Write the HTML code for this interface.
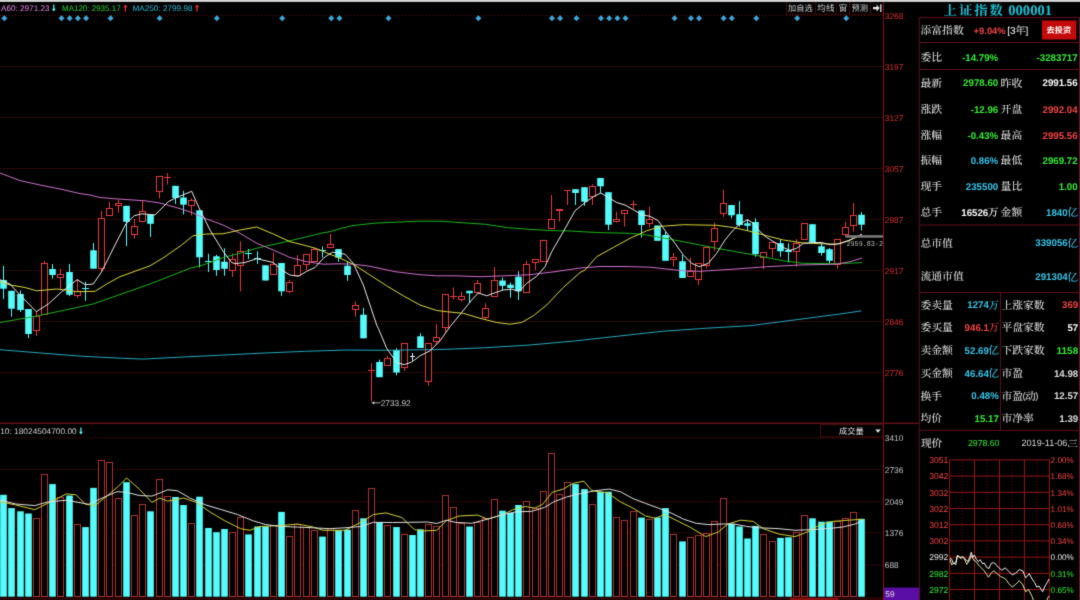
<!DOCTYPE html>
<html lang="zh"><head><meta charset="utf-8"><title>上证指数 000001</title>
<style>
html,body{margin:0;padding:0;background:#000;width:1080px;height:600px;overflow:hidden}
svg{display:block;font-family:"Liberation Sans",sans-serif}
text{white-space:pre;-webkit-font-smoothing:antialiased}
svg{will-change:transform}
.zh{font-family:"Liberation Sans","Noto Sans CJK SC",sans-serif}
.zs{font-family:"Liberation Serif","Noto Serif CJK SC",serif}
</style></head><body>
<svg width="1080" height="600" viewBox="0 0 1080 600" text-rendering="geometricPrecision">
<defs><filter id="soft" x="0" y="0" width="100%" height="100%" color-interpolation-filters="sRGB"><feConvolveMatrix order="3" kernelMatrix="0.02 0.09 0.02 0.09 0.56 0.09 0.02 0.09 0.02" divisor="1" edgeMode="duplicate" preserveAlpha="true"/></filter></defs>
<g filter="url(#soft)">
<rect x="0" y="0" width="1080" height="600" fill="#000"/>
<rect x="0" y="-1" width="1080" height="2.9" fill="#d6d6d6"/>
<line x1="0" y1="15.5" x2="883" y2="15.5" stroke="#5a1010" stroke-width="1" stroke-dasharray="1 2"/>
<line x1="0" y1="66.5" x2="883" y2="66.5" stroke="#2e0808" stroke-width="1"/>
<line x1="0" y1="117.5" x2="883" y2="117.5" stroke="#2e0808" stroke-width="1"/>
<line x1="0" y1="168.5" x2="883" y2="168.5" stroke="#2e0808" stroke-width="1"/>
<line x1="0" y1="219.5" x2="883" y2="219.5" stroke="#2e0808" stroke-width="1"/>
<line x1="0" y1="270.5" x2="883" y2="270.5" stroke="#2e0808" stroke-width="1"/>
<line x1="0" y1="321.5" x2="883" y2="321.5" stroke="#2e0808" stroke-width="1"/>
<line x1="0" y1="372.5" x2="883" y2="372.5" stroke="#2e0808" stroke-width="1"/>
<line x1="883.5" y1="2" x2="883.5" y2="600" stroke="#861414" stroke-width="1"/>
<text x="884.8" y="18.57" font-family="Liberation Sans, sans-serif" font-size="8.3" fill="#e03030">3268</text>
<text x="884.8" y="69.57" font-family="Liberation Sans, sans-serif" font-size="8.3" fill="#e03030">3197</text>
<text x="884.8" y="120.57" font-family="Liberation Sans, sans-serif" font-size="8.3" fill="#e03030">3127</text>
<text x="884.8" y="171.57" font-family="Liberation Sans, sans-serif" font-size="8.3" fill="#e03030">3057</text>
<text x="884.8" y="222.57" font-family="Liberation Sans, sans-serif" font-size="8.3" fill="#e03030">2987</text>
<text x="884.8" y="273.57" font-family="Liberation Sans, sans-serif" font-size="8.3" fill="#e03030">2917</text>
<text x="884.8" y="324.57" font-family="Liberation Sans, sans-serif" font-size="8.3" fill="#e03030">2846</text>
<text x="884.8" y="375.57" font-family="Liberation Sans, sans-serif" font-size="8.3" fill="#e03030">2776</text>
<path d="M4.3 15.2L7.3 18.2L4.3 21.2L1.3 18.2Z" fill="#3ba7d9"/>
<path d="M61.52 15.2L64.52 18.2L61.52 21.2L58.52 18.2Z" fill="#3ba7d9"/>
<path d="M69.69 15.2L72.69 18.2L69.69 21.2L66.69 18.2Z" fill="#3ba7d9"/>
<path d="M77.87 15.2L80.87 18.2L77.87 21.2L74.87 18.2Z" fill="#3ba7d9"/>
<path d="M86.04 15.2L89.04 18.2L86.04 21.2L83.04 18.2Z" fill="#3ba7d9"/>
<path d="M110.56 15.2L113.56 18.2L110.56 21.2L107.56 18.2Z" fill="#3ba7d9"/>
<path d="M159.61 15.2L162.61 18.2L159.61 21.2L156.61 18.2Z" fill="#3ba7d9"/>
<path d="M216.82 15.2L219.82 18.2L216.82 21.2L213.82 18.2Z" fill="#3ba7d9"/>
<path d="M282.22 15.2L285.22 18.2L282.22 21.2L279.22 18.2Z" fill="#3ba7d9"/>
<path d="M331.26 15.2L334.26 18.2L331.26 21.2L328.26 18.2Z" fill="#3ba7d9"/>
<path d="M339.43 15.2L342.43 18.2L339.43 21.2L336.43 18.2Z" fill="#3ba7d9"/>
<path d="M388.48 15.2L391.48 18.2L388.48 21.2L385.48 18.2Z" fill="#3ba7d9"/>
<path d="M478.39 15.2L481.39 18.2L478.39 21.2L475.39 18.2Z" fill="#3ba7d9"/>
<path d="M551.96 15.2L554.96 18.2L551.96 21.2L548.96 18.2Z" fill="#3ba7d9"/>
<path d="M560.13 15.2L563.13 18.2L560.13 21.2L557.13 18.2Z" fill="#3ba7d9"/>
<path d="M576.48 15.2L579.48 18.2L576.48 21.2L573.48 18.2Z" fill="#3ba7d9"/>
<path d="M601 15.2L604 18.2L601 21.2L598 18.2Z" fill="#3ba7d9"/>
<path d="M609.18 15.2L612.18 18.2L609.18 21.2L606.18 18.2Z" fill="#3ba7d9"/>
<path d="M617.35 15.2L620.35 18.2L617.35 21.2L614.35 18.2Z" fill="#3ba7d9"/>
<path d="M625.52 15.2L628.52 18.2L625.52 21.2L622.52 18.2Z" fill="#3ba7d9"/>
<path d="M674.57 15.2L677.57 18.2L674.57 21.2L671.57 18.2Z" fill="#3ba7d9"/>
<path d="M690.92 15.2L693.92 18.2L690.92 21.2L687.92 18.2Z" fill="#3ba7d9"/>
<path d="M699.09 15.2L702.09 18.2L699.09 21.2L696.09 18.2Z" fill="#3ba7d9"/>
<path d="M723.61 15.2L726.61 18.2L723.61 21.2L720.61 18.2Z" fill="#3ba7d9"/>
<path d="M731.79 15.2L734.79 18.2L731.79 21.2L728.79 18.2Z" fill="#3ba7d9"/>
<path d="M756.31 15.2L759.31 18.2L756.31 21.2L753.31 18.2Z" fill="#3ba7d9"/>
<path d="M797.18 15.2L800.18 18.2L797.18 21.2L794.18 18.2Z" fill="#3ba7d9"/>
<path d="M846.22 15.2L849.22 18.2L846.22 21.2L843.22 18.2Z" fill="#3ba7d9"/>
<text x="1" y="10.92" font-family="Liberation Sans, sans-serif" font-size="8.15" fill="#e688e6" textLength="48.5" lengthAdjust="spacingAndGlyphs">A60: 2971.23</text>
<text x="62" y="10.92" font-family="Liberation Sans, sans-serif" font-size="8.15" fill="#2cd42c" textLength="58.6" lengthAdjust="spacingAndGlyphs">MA120: 2935.17</text>
<text x="132.5" y="10.92" font-family="Liberation Sans, sans-serif" font-size="8.15" fill="#2cbcd8" textLength="60" lengthAdjust="spacingAndGlyphs">MA250: 2799.98</text>
<path d="M53.8 11.6L55.8 8.8H54.4V4.6H53.2V8.8H51.8Z" fill="#5ff"/>
<path d="M125.4 4.4L127.4 7.2H126V11.4H124.8V7.2H123.4Z" fill="#f33"/>
<path d="M197 4.4L199 7.2H197.6V11.4H196.4V7.2H195Z" fill="#f33"/>
<line x1="3.5" y1="265.8" x2="3.5" y2="299" stroke="#54fcfc" stroke-width="1"/>
<rect x="0.2" y="280" width="6.6" height="8.7" fill="#54fcfc"/>
<line x1="11.5" y1="290.8" x2="11.5" y2="316.7" stroke="#54fcfc" stroke-width="1"/>
<rect x="8.2" y="290.8" width="6.6" height="17.9" fill="#54fcfc"/>
<line x1="20.5" y1="290.5" x2="20.5" y2="312" stroke="#54fcfc" stroke-width="1"/>
<rect x="17.2" y="294" width="6.6" height="16" fill="#54fcfc"/>
<line x1="28.5" y1="309" x2="28.5" y2="338" stroke="#54fcfc" stroke-width="1"/>
<rect x="25.2" y="309" width="6.6" height="25" fill="#54fcfc"/>
<line x1="36.5" y1="311" x2="36.5" y2="316.7" stroke="#e63a3a" stroke-width="1"/>
<line x1="36.5" y1="330" x2="36.5" y2="336" stroke="#e63a3a" stroke-width="1"/>
<rect x="33.5" y="316.5" width="6" height="14" fill="#000" stroke="#e63a3a" stroke-width="1"/>
<line x1="44.5" y1="261" x2="44.5" y2="263.3" stroke="#e63a3a" stroke-width="1"/>
<rect x="41.5" y="263.5" width="6" height="51" fill="#000" stroke="#e63a3a" stroke-width="1"/>
<line x1="52.5" y1="264" x2="52.5" y2="278.7" stroke="#54fcfc" stroke-width="1"/>
<rect x="49.2" y="269" width="6.6" height="6" fill="#54fcfc"/>
<line x1="60.5" y1="268.7" x2="60.5" y2="274" stroke="#e63a3a" stroke-width="1"/>
<line x1="60.5" y1="277.5" x2="60.5" y2="289" stroke="#e63a3a" stroke-width="1"/>
<rect x="57.5" y="274.5" width="6" height="3" fill="#000" stroke="#e63a3a" stroke-width="1"/>
<line x1="69.5" y1="264" x2="69.5" y2="296" stroke="#54fcfc" stroke-width="1"/>
<rect x="66.2" y="272" width="6.6" height="22.7" fill="#54fcfc"/>
<line x1="77.5" y1="279" x2="77.5" y2="291.3" stroke="#e63a3a" stroke-width="1"/>
<line x1="77.5" y1="295" x2="77.5" y2="298" stroke="#e63a3a" stroke-width="1"/>
<rect x="74.5" y="291.5" width="6" height="4" fill="#000" stroke="#e63a3a" stroke-width="1"/>
<line x1="85.5" y1="281.7" x2="85.5" y2="300.8" stroke="#54fcfc" stroke-width="1"/>
<line x1="82" y1="288.5" x2="89" y2="288.5" stroke="#54fcfc" stroke-width="1"/>
<line x1="93.5" y1="243" x2="93.5" y2="268.7" stroke="#54fcfc" stroke-width="1"/>
<rect x="90.2" y="250.3" width="6.6" height="18.4" fill="#54fcfc"/>
<line x1="101.5" y1="211" x2="101.5" y2="218.5" stroke="#e63a3a" stroke-width="1"/>
<line x1="101.5" y1="268.5" x2="101.5" y2="272" stroke="#e63a3a" stroke-width="1"/>
<rect x="98.5" y="218.5" width="6" height="50" fill="#000" stroke="#e63a3a" stroke-width="1"/>
<line x1="109.5" y1="202" x2="109.5" y2="208" stroke="#e63a3a" stroke-width="1"/>
<rect x="106.5" y="208.5" width="6" height="7" fill="#000" stroke="#e63a3a" stroke-width="1"/>
<line x1="118.5" y1="200" x2="118.5" y2="203" stroke="#e63a3a" stroke-width="1"/>
<line x1="118.5" y1="205.5" x2="118.5" y2="212.8" stroke="#e63a3a" stroke-width="1"/>
<rect x="115.5" y="203.5" width="6" height="2" fill="#000" stroke="#e63a3a" stroke-width="1"/>
<line x1="126.5" y1="205.8" x2="126.5" y2="246.2" stroke="#54fcfc" stroke-width="1"/>
<rect x="123.2" y="205.8" width="6.6" height="16" fill="#54fcfc"/>
<line x1="134.5" y1="219" x2="134.5" y2="226.5" stroke="#e63a3a" stroke-width="1"/>
<line x1="134.5" y1="234.3" x2="134.5" y2="238.6" stroke="#e63a3a" stroke-width="1"/>
<rect x="131.5" y="226.5" width="6" height="8" fill="#000" stroke="#e63a3a" stroke-width="1"/>
<line x1="142.5" y1="200.2" x2="142.5" y2="211.7" stroke="#e63a3a" stroke-width="1"/>
<line x1="142.5" y1="221.7" x2="142.5" y2="222.3" stroke="#e63a3a" stroke-width="1"/>
<rect x="139.5" y="211.5" width="6" height="10" fill="#000" stroke="#e63a3a" stroke-width="1"/>
<line x1="150.5" y1="214.5" x2="150.5" y2="237" stroke="#54fcfc" stroke-width="1"/>
<rect x="147.2" y="214.5" width="6.6" height="9.3" fill="#54fcfc"/>
<line x1="159.5" y1="191.7" x2="159.5" y2="198.2" stroke="#e63a3a" stroke-width="1"/>
<rect x="156.5" y="176.5" width="6" height="15" fill="#000" stroke="#e63a3a" stroke-width="1"/>
<line x1="167.5" y1="173" x2="167.5" y2="184.6" stroke="#e63a3a" stroke-width="1"/>
<line x1="164" y1="177.5" x2="171" y2="177.5" stroke="#e63a3a" stroke-width="1"/>
<line x1="175.5" y1="185.8" x2="175.5" y2="204" stroke="#54fcfc" stroke-width="1"/>
<rect x="172.2" y="185.8" width="6.6" height="12.1" fill="#54fcfc"/>
<line x1="183.5" y1="190.8" x2="183.5" y2="214.5" stroke="#54fcfc" stroke-width="1"/>
<rect x="180.2" y="197.5" width="6.6" height="7.2" fill="#54fcfc"/>
<line x1="191.5" y1="198.3" x2="191.5" y2="200.8" stroke="#e63a3a" stroke-width="1"/>
<line x1="191.5" y1="205.8" x2="191.5" y2="215.6" stroke="#e63a3a" stroke-width="1"/>
<rect x="188.5" y="200.5" width="6" height="5" fill="#000" stroke="#e63a3a" stroke-width="1"/>
<line x1="199.5" y1="210.3" x2="199.5" y2="267.5" stroke="#54fcfc" stroke-width="1"/>
<rect x="196.2" y="210.3" width="6.6" height="47" fill="#54fcfc"/>
<line x1="208.5" y1="253.7" x2="208.5" y2="272" stroke="#54fcfc" stroke-width="1"/>
<line x1="205" y1="261.5" x2="212" y2="261.5" stroke="#54fcfc" stroke-width="1"/>
<line x1="216.5" y1="254.7" x2="216.5" y2="275.8" stroke="#54fcfc" stroke-width="1"/>
<rect x="213.2" y="256.3" width="6.6" height="13.7" fill="#54fcfc"/>
<line x1="224.5" y1="248.3" x2="224.5" y2="275.8" stroke="#54fcfc" stroke-width="1"/>
<rect x="221.2" y="261.7" width="6.6" height="7.1" fill="#54fcfc"/>
<line x1="232.5" y1="253.3" x2="232.5" y2="259" stroke="#e63a3a" stroke-width="1"/>
<line x1="232.5" y1="270.3" x2="232.5" y2="277" stroke="#e63a3a" stroke-width="1"/>
<rect x="229.5" y="259.5" width="6" height="11" fill="#000" stroke="#e63a3a" stroke-width="1"/>
<line x1="240.5" y1="241.3" x2="240.5" y2="251.3" stroke="#e63a3a" stroke-width="1"/>
<line x1="240.5" y1="265.5" x2="240.5" y2="291.3" stroke="#e63a3a" stroke-width="1"/>
<rect x="237.5" y="251.5" width="6" height="14" fill="#000" stroke="#e63a3a" stroke-width="1"/>
<line x1="248.5" y1="249" x2="248.5" y2="259" stroke="#54fcfc" stroke-width="1"/>
<line x1="245" y1="253.5" x2="252" y2="253.5" stroke="#54fcfc" stroke-width="1"/>
<line x1="257.5" y1="251.3" x2="257.5" y2="264" stroke="#54fcfc" stroke-width="1"/>
<line x1="254" y1="258.5" x2="261" y2="258.5" stroke="#54fcfc" stroke-width="1"/>
<line x1="265.5" y1="265.3" x2="265.5" y2="280.5" stroke="#54fcfc" stroke-width="1"/>
<rect x="262.2" y="265.3" width="6.6" height="15.2" fill="#54fcfc"/>
<line x1="273.5" y1="252.5" x2="273.5" y2="264" stroke="#e63a3a" stroke-width="1"/>
<rect x="270.5" y="264.5" width="6" height="10" fill="#000" stroke="#e63a3a" stroke-width="1"/>
<line x1="281.5" y1="263" x2="281.5" y2="295.8" stroke="#54fcfc" stroke-width="1"/>
<rect x="278.2" y="263" width="6.6" height="28.3" fill="#54fcfc"/>
<line x1="289.5" y1="280" x2="289.5" y2="282" stroke="#e63a3a" stroke-width="1"/>
<line x1="289.5" y1="291.3" x2="289.5" y2="293.3" stroke="#e63a3a" stroke-width="1"/>
<rect x="286.5" y="282.5" width="6" height="9" fill="#000" stroke="#e63a3a" stroke-width="1"/>
<line x1="297.5" y1="255" x2="297.5" y2="265.3" stroke="#e63a3a" stroke-width="1"/>
<rect x="294.5" y="265.5" width="6" height="10" fill="#000" stroke="#e63a3a" stroke-width="1"/>
<line x1="306.5" y1="264" x2="306.5" y2="270" stroke="#e63a3a" stroke-width="1"/>
<rect x="303.5" y="254.5" width="6" height="10" fill="#000" stroke="#e63a3a" stroke-width="1"/>
<line x1="314.5" y1="247.5" x2="314.5" y2="249" stroke="#e63a3a" stroke-width="1"/>
<rect x="311.5" y="249.5" width="6" height="12" fill="#000" stroke="#e63a3a" stroke-width="1"/>
<line x1="322.5" y1="246.5" x2="322.5" y2="257.5" stroke="#54fcfc" stroke-width="1"/>
<line x1="319" y1="250.5" x2="326" y2="250.5" stroke="#54fcfc" stroke-width="1"/>
<line x1="330.5" y1="234.1" x2="330.5" y2="244.1" stroke="#e63a3a" stroke-width="1"/>
<rect x="327.5" y="244.5" width="6" height="3" fill="#000" stroke="#e63a3a" stroke-width="1"/>
<line x1="338.5" y1="249.1" x2="338.5" y2="261.7" stroke="#54fcfc" stroke-width="1"/>
<rect x="335.2" y="249.1" width="6.6" height="8.6" fill="#54fcfc"/>
<line x1="347.5" y1="262" x2="347.5" y2="280.8" stroke="#54fcfc" stroke-width="1"/>
<rect x="344.2" y="265.8" width="6.6" height="9.2" fill="#54fcfc"/>
<line x1="355.5" y1="301.3" x2="355.5" y2="305.3" stroke="#e63a3a" stroke-width="1"/>
<line x1="355.5" y1="309.7" x2="355.5" y2="316.7" stroke="#e63a3a" stroke-width="1"/>
<rect x="352.5" y="305.5" width="6" height="4" fill="#000" stroke="#e63a3a" stroke-width="1"/>
<line x1="363.5" y1="307.8" x2="363.5" y2="338.3" stroke="#54fcfc" stroke-width="1"/>
<rect x="360.2" y="314.7" width="6.6" height="23.6" fill="#54fcfc"/>
<line x1="371.5" y1="363.3" x2="371.5" y2="401.7" stroke="#e63a3a" stroke-width="1"/>
<line x1="368" y1="370.5" x2="375" y2="370.5" stroke="#e63a3a" stroke-width="1"/>
<line x1="379.5" y1="359.7" x2="379.5" y2="377.2" stroke="#54fcfc" stroke-width="1"/>
<rect x="376.2" y="362" width="6.6" height="15.2" fill="#54fcfc"/>
<line x1="387.5" y1="355.8" x2="387.5" y2="358.3" stroke="#e63a3a" stroke-width="1"/>
<rect x="384.5" y="358.5" width="6" height="7" fill="#000" stroke="#e63a3a" stroke-width="1"/>
<line x1="396.5" y1="348.3" x2="396.5" y2="375.3" stroke="#54fcfc" stroke-width="1"/>
<rect x="393.2" y="350" width="6.6" height="22.5" fill="#54fcfc"/>
<line x1="404.5" y1="367.5" x2="404.5" y2="370.8" stroke="#e63a3a" stroke-width="1"/>
<rect x="401.5" y="343.5" width="6" height="24" fill="#000" stroke="#e63a3a" stroke-width="1"/>
<line x1="412.5" y1="353" x2="412.5" y2="360.8" stroke="#d8f4f4" stroke-width="1"/>
<line x1="410" y1="356.5" x2="415" y2="356.5" stroke="#d8f4f4" stroke-width="1"/>
<line x1="420.5" y1="333.3" x2="420.5" y2="348" stroke="#54fcfc" stroke-width="1"/>
<rect x="417.2" y="336.3" width="6.6" height="11.7" fill="#54fcfc"/>
<line x1="428.5" y1="381.7" x2="428.5" y2="385.8" stroke="#e63a3a" stroke-width="1"/>
<rect x="425.5" y="343.5" width="6" height="38" fill="#000" stroke="#e63a3a" stroke-width="1"/>
<line x1="436.5" y1="324.2" x2="436.5" y2="337.5" stroke="#e63a3a" stroke-width="1"/>
<line x1="436.5" y1="341.7" x2="436.5" y2="345" stroke="#e63a3a" stroke-width="1"/>
<rect x="433.5" y="337.5" width="6" height="4" fill="#000" stroke="#e63a3a" stroke-width="1"/>
<line x1="445.5" y1="327.5" x2="445.5" y2="332.5" stroke="#e63a3a" stroke-width="1"/>
<rect x="442.5" y="294.5" width="6" height="33" fill="#000" stroke="#e63a3a" stroke-width="1"/>
<line x1="453.5" y1="287.5" x2="453.5" y2="299.6" stroke="#e63a3a" stroke-width="1"/>
<line x1="450" y1="296.5" x2="457" y2="296.5" stroke="#e63a3a" stroke-width="1"/>
<line x1="461.5" y1="291.8" x2="461.5" y2="296.3" stroke="#e63a3a" stroke-width="1"/>
<line x1="461.5" y1="299.2" x2="461.5" y2="301.7" stroke="#e63a3a" stroke-width="1"/>
<rect x="458.5" y="296.5" width="6" height="3" fill="#000" stroke="#e63a3a" stroke-width="1"/>
<line x1="469.5" y1="290.8" x2="469.5" y2="302.5" stroke="#54fcfc" stroke-width="1"/>
<rect x="466.2" y="290.8" width="6.6" height="2.5" fill="#54fcfc"/>
<line x1="477.5" y1="280" x2="477.5" y2="283.3" stroke="#e63a3a" stroke-width="1"/>
<line x1="477.5" y1="292.5" x2="477.5" y2="294" stroke="#e63a3a" stroke-width="1"/>
<rect x="474.5" y="283.5" width="6" height="9" fill="#000" stroke="#e63a3a" stroke-width="1"/>
<line x1="485.5" y1="303.3" x2="485.5" y2="308" stroke="#e63a3a" stroke-width="1"/>
<line x1="485.5" y1="317.5" x2="485.5" y2="319" stroke="#e63a3a" stroke-width="1"/>
<rect x="482.5" y="308.5" width="6" height="9" fill="#000" stroke="#e63a3a" stroke-width="1"/>
<line x1="494.5" y1="267" x2="494.5" y2="280" stroke="#e63a3a" stroke-width="1"/>
<rect x="491.5" y="280.5" width="6" height="16" fill="#000" stroke="#e63a3a" stroke-width="1"/>
<line x1="502.5" y1="277.5" x2="502.5" y2="290" stroke="#54fcfc" stroke-width="1"/>
<rect x="499.2" y="280.5" width="6.6" height="5.3" fill="#54fcfc"/>
<line x1="510.5" y1="282.5" x2="510.5" y2="297.5" stroke="#54fcfc" stroke-width="1"/>
<rect x="507.2" y="284.7" width="6.6" height="3.3" fill="#54fcfc"/>
<line x1="518.5" y1="271.3" x2="518.5" y2="300" stroke="#54fcfc" stroke-width="1"/>
<rect x="515.2" y="276.7" width="6.6" height="14.6" fill="#54fcfc"/>
<line x1="526.5" y1="260.8" x2="526.5" y2="264.2" stroke="#e63a3a" stroke-width="1"/>
<rect x="523.5" y="264.5" width="6" height="28" fill="#000" stroke="#e63a3a" stroke-width="1"/>
<line x1="535.5" y1="262.3" x2="535.5" y2="270" stroke="#e63a3a" stroke-width="1"/>
<rect x="532.5" y="259.5" width="6" height="3" fill="#000" stroke="#e63a3a" stroke-width="1"/>
<rect x="540.5" y="240.5" width="6" height="21" fill="#000" stroke="#e63a3a" stroke-width="1"/>
<line x1="551.5" y1="195" x2="551.5" y2="219.5" stroke="#e63a3a" stroke-width="1"/>
<rect x="548.5" y="219.5" width="6" height="9" fill="#000" stroke="#e63a3a" stroke-width="1"/>
<line x1="559.5" y1="210" x2="559.5" y2="221.7" stroke="#e63a3a" stroke-width="1"/>
<line x1="556" y1="210" x2="563" y2="210" stroke="#e63a3a" stroke-width="2"/>
<line x1="567.5" y1="190.8" x2="567.5" y2="205" stroke="#e63a3a" stroke-width="1"/>
<line x1="564" y1="190.5" x2="571" y2="190.5" stroke="#e63a3a" stroke-width="1"/>
<line x1="575.5" y1="189.2" x2="575.5" y2="205" stroke="#54fcfc" stroke-width="1"/>
<rect x="572.2" y="189.2" width="6.6" height="3.8" fill="#54fcfc"/>
<line x1="584.5" y1="187.2" x2="584.5" y2="205.8" stroke="#54fcfc" stroke-width="1"/>
<rect x="581.2" y="187.2" width="6.6" height="14.5" fill="#54fcfc"/>
<line x1="592.5" y1="184.2" x2="592.5" y2="186.3" stroke="#e63a3a" stroke-width="1"/>
<line x1="592.5" y1="196.3" x2="592.5" y2="205" stroke="#e63a3a" stroke-width="1"/>
<rect x="589.5" y="186.5" width="6" height="10" fill="#000" stroke="#e63a3a" stroke-width="1"/>
<line x1="600.5" y1="178" x2="600.5" y2="193.3" stroke="#54fcfc" stroke-width="1"/>
<rect x="597.2" y="178" width="6.6" height="8.3" fill="#54fcfc"/>
<line x1="608.5" y1="192.2" x2="608.5" y2="230" stroke="#54fcfc" stroke-width="1"/>
<rect x="605.2" y="192.2" width="6.6" height="32.5" fill="#54fcfc"/>
<line x1="616.5" y1="211.7" x2="616.5" y2="219.2" stroke="#e63a3a" stroke-width="1"/>
<line x1="616.5" y1="220.8" x2="616.5" y2="222.5" stroke="#e63a3a" stroke-width="1"/>
<rect x="613.5" y="219.5" width="6" height="2" fill="#000" stroke="#e63a3a" stroke-width="1"/>
<line x1="624.5" y1="213.7" x2="624.5" y2="226.7" stroke="#e63a3a" stroke-width="1"/>
<rect x="621.5" y="210.5" width="6" height="3" fill="#000" stroke="#e63a3a" stroke-width="1"/>
<line x1="633.5" y1="200.8" x2="633.5" y2="209.2" stroke="#e63a3a" stroke-width="1"/>
<line x1="630" y1="204.5" x2="637" y2="204.5" stroke="#e63a3a" stroke-width="1"/>
<line x1="641.5" y1="210.5" x2="641.5" y2="237.5" stroke="#54fcfc" stroke-width="1"/>
<rect x="638.2" y="210.5" width="6.6" height="14.5" fill="#54fcfc"/>
<line x1="649.5" y1="206.7" x2="649.5" y2="219.2" stroke="#e63a3a" stroke-width="1"/>
<line x1="649.5" y1="223.7" x2="649.5" y2="227.5" stroke="#e63a3a" stroke-width="1"/>
<rect x="646.5" y="219.5" width="6" height="4" fill="#000" stroke="#e63a3a" stroke-width="1"/>
<line x1="657.5" y1="225.5" x2="657.5" y2="240.8" stroke="#54fcfc" stroke-width="1"/>
<rect x="654.2" y="225.5" width="6.6" height="15.3" fill="#54fcfc"/>
<line x1="665.5" y1="231.7" x2="665.5" y2="260.8" stroke="#54fcfc" stroke-width="1"/>
<rect x="662.2" y="235" width="6.6" height="25.8" fill="#54fcfc"/>
<line x1="673.5" y1="253" x2="673.5" y2="257.8" stroke="#e63a3a" stroke-width="1"/>
<line x1="673.5" y1="259.8" x2="673.5" y2="266.7" stroke="#e63a3a" stroke-width="1"/>
<rect x="670.5" y="257.5" width="6" height="2" fill="#000" stroke="#e63a3a" stroke-width="1"/>
<line x1="682.5" y1="255" x2="682.5" y2="278" stroke="#54fcfc" stroke-width="1"/>
<rect x="679.2" y="261.3" width="6.6" height="16.7" fill="#54fcfc"/>
<line x1="690.5" y1="257.5" x2="690.5" y2="271.7" stroke="#e63a3a" stroke-width="1"/>
<rect x="687.5" y="271.5" width="6" height="5" fill="#000" stroke="#e63a3a" stroke-width="1"/>
<line x1="698.5" y1="279.7" x2="698.5" y2="285" stroke="#e63a3a" stroke-width="1"/>
<rect x="695.5" y="263.5" width="6" height="16" fill="#000" stroke="#e63a3a" stroke-width="1"/>
<line x1="706.5" y1="265" x2="706.5" y2="268.3" stroke="#e63a3a" stroke-width="1"/>
<rect x="703.5" y="247.5" width="6" height="18" fill="#000" stroke="#e63a3a" stroke-width="1"/>
<line x1="714.5" y1="222.5" x2="714.5" y2="228" stroke="#e63a3a" stroke-width="1"/>
<line x1="714.5" y1="241.7" x2="714.5" y2="250.8" stroke="#e63a3a" stroke-width="1"/>
<rect x="711.5" y="228.5" width="6" height="13" fill="#000" stroke="#e63a3a" stroke-width="1"/>
<line x1="723.5" y1="189.7" x2="723.5" y2="203.3" stroke="#e63a3a" stroke-width="1"/>
<line x1="723.5" y1="213.3" x2="723.5" y2="217" stroke="#e63a3a" stroke-width="1"/>
<rect x="720.5" y="203.5" width="6" height="10" fill="#000" stroke="#e63a3a" stroke-width="1"/>
<line x1="731.5" y1="205" x2="731.5" y2="218.3" stroke="#54fcfc" stroke-width="1"/>
<rect x="728.2" y="205" width="6.6" height="10.3" fill="#54fcfc"/>
<line x1="739.5" y1="201.2" x2="739.5" y2="226.7" stroke="#54fcfc" stroke-width="1"/>
<rect x="736.2" y="214.2" width="6.6" height="10.8" fill="#54fcfc"/>
<line x1="747.5" y1="219.2" x2="747.5" y2="230.8" stroke="#54fcfc" stroke-width="1"/>
<rect x="744.2" y="223.3" width="6.6" height="2.5" fill="#54fcfc"/>
<line x1="755.5" y1="218.3" x2="755.5" y2="256.7" stroke="#54fcfc" stroke-width="1"/>
<rect x="752.2" y="222" width="6.6" height="32.2" fill="#54fcfc"/>
<line x1="763.5" y1="257" x2="763.5" y2="269.2" stroke="#e63a3a" stroke-width="1"/>
<rect x="760.5" y="252.5" width="6" height="5" fill="#000" stroke="#e63a3a" stroke-width="1"/>
<line x1="772.5" y1="248.3" x2="772.5" y2="257.2" stroke="#e63a3a" stroke-width="1"/>
<rect x="769.5" y="242.5" width="6" height="6" fill="#000" stroke="#e63a3a" stroke-width="1"/>
<line x1="780.5" y1="240" x2="780.5" y2="256.8" stroke="#54fcfc" stroke-width="1"/>
<rect x="777.2" y="243.2" width="6.6" height="8.1" fill="#54fcfc"/>
<line x1="788.5" y1="243.3" x2="788.5" y2="262.5" stroke="#54fcfc" stroke-width="1"/>
<rect x="785.2" y="250" width="6.6" height="2" fill="#54fcfc"/>
<line x1="796.5" y1="239.2" x2="796.5" y2="243.3" stroke="#e63a3a" stroke-width="1"/>
<line x1="796.5" y1="251.7" x2="796.5" y2="266.7" stroke="#e63a3a" stroke-width="1"/>
<rect x="793.5" y="243.5" width="6" height="8" fill="#000" stroke="#e63a3a" stroke-width="1"/>
<line x1="804.5" y1="239.2" x2="804.5" y2="240" stroke="#e63a3a" stroke-width="1"/>
<rect x="801.5" y="223.5" width="6" height="16" fill="#000" stroke="#e63a3a" stroke-width="1"/>
<line x1="812.5" y1="224.2" x2="812.5" y2="242.2" stroke="#54fcfc" stroke-width="1"/>
<rect x="809.2" y="224.2" width="6.6" height="18" fill="#54fcfc"/>
<line x1="821.5" y1="242.5" x2="821.5" y2="255.5" stroke="#54fcfc" stroke-width="1"/>
<rect x="818.2" y="246.3" width="6.6" height="6.7" fill="#54fcfc"/>
<line x1="829.5" y1="248" x2="829.5" y2="264.2" stroke="#54fcfc" stroke-width="1"/>
<rect x="826.2" y="249.2" width="6.6" height="11.6" fill="#54fcfc"/>
<line x1="837.5" y1="264.2" x2="837.5" y2="268.7" stroke="#e63a3a" stroke-width="1"/>
<rect x="834.5" y="239.5" width="6" height="25" fill="#000" stroke="#e63a3a" stroke-width="1"/>
<line x1="845.5" y1="221.7" x2="845.5" y2="227.5" stroke="#e63a3a" stroke-width="1"/>
<line x1="845.5" y1="234.7" x2="845.5" y2="236.3" stroke="#e63a3a" stroke-width="1"/>
<rect x="842.5" y="227.5" width="6" height="7" fill="#000" stroke="#e63a3a" stroke-width="1"/>
<line x1="853.5" y1="203" x2="853.5" y2="215.3" stroke="#e63a3a" stroke-width="1"/>
<line x1="853.5" y1="225.3" x2="853.5" y2="231.7" stroke="#e63a3a" stroke-width="1"/>
<rect x="850.5" y="215.5" width="6" height="10" fill="#000" stroke="#e63a3a" stroke-width="1"/>
<line x1="861.5" y1="212" x2="861.5" y2="230.5" stroke="#54fcfc" stroke-width="1"/>
<rect x="858.2" y="214.7" width="6.6" height="10" fill="#54fcfc"/>
<polyline points="0,349.7 40.7,353 81.5,356.2 114,357.9 142.6,359.1 183.3,357 224,355 264.8,353 305.5,351.3 346.3,350 387,350.3 440,349.5 484.4,347.8 528.9,345.1 573.3,341.1 617.8,336.2 662.2,331.3 706.7,328.2 751.1,325.6 795.6,319.8 840,314 861.3,310.9" fill="none" stroke="#22a8c0" stroke-width="1" stroke-linejoin="round"/>
<polyline points="0,322.5 38,315.8 93,304 150,284 190,268.3 203,265 223.3,257.5 240,253.2 256.7,248.3 290,240.8 323,232.8 330,231.7 341,228.3 352,225.7 374.4,223.2 396.7,222.1 418.9,221.2 441,221.2 463.3,222.8 485.6,224.3 507.8,227.7 530,229.4 552,230.6 570,231 596.7,232.5 630,233.3 646.7,235 663.3,238 683.3,241.7 716.7,248.3 750,254.2 783.3,260.8 803.3,263.3 836.7,263.7 853.3,263 862,262.5" fill="none" stroke="#18b418" stroke-width="1" stroke-linejoin="round"/>
<polyline points="0,173 20,180.6 40,185 60,189 80,193.6 90,195 100,197.5 115,198.8 145,200.8 160,203 170,205.8 180,208.6 191.7,212.5 206.7,219 223,225 240,233.3 256.7,243.3 273.3,250 290,257.5 306.7,261.7 323.3,264.2 340,263.8 353.3,264.2 370,266.3 395,271.7 420,274.7 436.7,275.8 455,275.8 480,276.7 505,275.8 530,274.7 555,271.7 580,268 600,266.5 625,266.5 650,267.2 683.3,270.8 700,271.3 733.3,269.2 766.7,266.7 800,265 836.7,264.2 850,261.7 862,258" fill="none" stroke="#cc70cc" stroke-width="1" stroke-linejoin="round"/>
<polyline points="0,281.7 10,285 25,287.5 36.7,290.8 56.7,289 77,291.7 95,291.3 106.7,284 120,276.7 150,265.8 165,256.7 181.7,245 193,235.8 198,235 206.7,234 223,233.8 240,230 256.7,227 273.3,234 290,241.7 306.7,245.8 316.7,248.7 331.7,255 336.7,256.7 353.3,264.2 370,275 386.7,285.8 403.3,295.8 420,305 436.7,310.5 446.7,311.7 463.3,313.3 480,318.3 496.7,322.5 510,324.2 521.7,322.5 533.3,315.8 546.7,305 563.3,287.5 580,272.5 585,270 596.7,256.7 613.3,247.5 630,238.3 646.7,230.8 661.7,226.3 683.3,224.7 716.7,225.3 733.3,227.5 750,231.3 766.7,235.8 783.3,240 803.3,243 820,243.7 836.7,244.2 850,240 862,234.7" fill="none" stroke="#d8d838" stroke-width="1" stroke-linejoin="round"/>
<polyline points="0,279.7 10,284 20,295 36.3,311.7 48.3,304 61.7,291.7 77.2,279.7 85.3,284.7 93.3,284 101.7,271.7 105,265 115,245 125.8,224 134,215.8 141.7,213.8 155,215 168.3,201.7 176.7,197.5 191.7,191.3 200,210 210,230 223.3,251.7 231.7,262.5 235,263.7 245,262.5 256.7,258.7 273.3,262.5 281.7,270 290,275 298.3,276.3 306.7,271.3 315,267.5 323.3,258.3 326.7,255.8 332.5,252.2 345,254.2 353.3,263.3 363.3,285 370,305 376.7,325 378.3,328.3 386.7,348.3 396.7,362.5 404.2,364.7 411.7,362 420,355.8 430,350.8 440,340.8 450,326.7 461.7,312.5 471.7,300 478.3,293 486.7,295.8 494.2,293 503.3,290 511.7,289.2 519.2,291.3 526.7,283.3 536.7,276.3 545,266.7 551.7,251.7 563.3,231.7 575,210.8 585,202.5 593.3,196.7 600.8,193 608.3,197.5 616.7,202.5 625,205 633.3,209.7 641.7,214.7 650,216.3 658.3,220.8 665.8,231.7 675,243.3 683.3,255 691.7,263.3 699.2,266.7 708.3,263.3 716.7,253.3 725,240 733.3,230 740,223.7 747.5,219.7 753.3,223.3 760,231.7 766.7,237.5 775,242.5 783.3,247.5 790,250.3 796.7,248.3 803.3,243.3 813.3,242.5 821.7,242.5 830,244.7 840,243.7 848.3,240.8 856.7,236.7 862,234.2" fill="none" stroke="#e8e8e8" stroke-width="1" stroke-linejoin="round"/>
<text x="380.7" y="405.97" font-family="Liberation Sans, sans-serif" font-size="8.3" fill="#cccccc">2733.92</text>
<path d="M371.6 402.9l2.7 -1.6v1.15h6.2v0.9h-6.2v1.15z" fill="#d8d8d8"/>
<rect x="845.5" y="235.2" width="37.5" height="2.5" fill="#7c7c7c"/>
<clipPath id="cl1"><rect x="840" y="230" width="43" height="20"/></clipPath>
<text x="846.5" y="246" font-family="Liberation Mono, monospace" font-size="7.6" fill="#b8b8b8" clip-path="url(#cl1)" textLength="40.5" lengthAdjust="spacingAndGlyphs">2959.83-29</text>
<line x1="786.5" y1="2" x2="786.5" y2="14.5" stroke="#7a1414" stroke-width="1" stroke-dasharray="1 1"/>
<line x1="815.5" y1="2" x2="815.5" y2="14.5" stroke="#7a1414" stroke-width="1" stroke-dasharray="1 1"/>
<line x1="836.5" y1="2" x2="836.5" y2="14.5" stroke="#7a1414" stroke-width="1" stroke-dasharray="1 1"/>
<line x1="849.5" y1="2" x2="849.5" y2="14.5" stroke="#7a1414" stroke-width="1" stroke-dasharray="1 1"/>
<line x1="870.5" y1="2" x2="870.5" y2="14.5" stroke="#7a1414" stroke-width="1" stroke-dasharray="1 1"/>
<line x1="786.5" y1="14.2" x2="883" y2="14.2" stroke="#7a1414" stroke-width="1" stroke-dasharray="1 1"/>
<text class="zh" x="788" y="11.32" font-size="8.2" fill="#d0d0d0">加自选</text>
<text class="zh" x="817.3" y="11.47" font-size="8.6" fill="#d0d0d0">均线</text>
<text class="zh" x="838.8" y="11.47" font-size="8.6" fill="#d0d0d0">窗</text>
<text class="zh" x="851.5" y="11.32" font-size="8.2" fill="#d0d0d0">预测</text>
<path d="M873 7h3.6v-2.6l3 3.7l-3 3.7v-2.6h-3.6z" fill="#e6e6e6"/>
<rect x="880.2" y="4.2" width="1.3" height="7.8" fill="#e6e6e6"/>
<line x1="0" y1="423.3" x2="919" y2="423.3" stroke="#5e0e1a" stroke-width="1.5"/>
<line x1="0" y1="437.9" x2="883" y2="437.9" stroke="#2e0808" stroke-width="1"/>
<line x1="0" y1="469.4" x2="883" y2="469.4" stroke="#2e0808" stroke-width="1"/>
<line x1="0" y1="501.8" x2="883" y2="501.8" stroke="#2e0808" stroke-width="1"/>
<line x1="0" y1="532.8" x2="883" y2="532.8" stroke="#2e0808" stroke-width="1"/>
<line x1="0" y1="565.1" x2="883" y2="565.1" stroke="#2e0808" stroke-width="1"/>
<text x="884.8" y="441.07" font-family="Liberation Sans, sans-serif" font-size="8.3" fill="#c4c4c4">3410</text>
<text x="884.8" y="472.57" font-family="Liberation Sans, sans-serif" font-size="8.3" fill="#c4c4c4">2736</text>
<text x="884.8" y="504.97" font-family="Liberation Sans, sans-serif" font-size="8.3" fill="#c4c4c4">2049</text>
<text x="884.8" y="535.97" font-family="Liberation Sans, sans-serif" font-size="8.3" fill="#c4c4c4">1376</text>
<text x="884.8" y="568.27" font-family="Liberation Sans, sans-serif" font-size="8.3" fill="#c4c4c4">688</text>
<text x="0.2" y="433.92" font-family="Liberation Sans, sans-serif" font-size="8.15" fill="#d0d0d0" textLength="76.5" lengthAdjust="spacingAndGlyphs">10: 18024504700.00</text>
<path d="M80.9 434.6L82.9 431.8H81.5V427.6H80.3V431.8H78.9Z" fill="#5ff"/>
<rect x="0.2" y="494.8" width="6.6" height="101.9" fill="#54fcfc"/>
<rect x="8.2" y="508.1" width="6.6" height="88.6" fill="#54fcfc"/>
<rect x="17.2" y="511.3" width="6.6" height="85.4" fill="#54fcfc"/>
<rect x="25.2" y="513.5" width="6.6" height="83.2" fill="#54fcfc"/>
<rect x="33.5" y="518.5" width="6" height="78" fill="#000" stroke="#ac3030" stroke-width="1"/>
<rect x="41.5" y="474.5" width="6" height="122" fill="#000" stroke="#ac3030" stroke-width="1"/>
<rect x="49.2" y="484.1" width="6.6" height="112.6" fill="#54fcfc"/>
<rect x="57.5" y="497.5" width="6" height="99" fill="#000" stroke="#ac3030" stroke-width="1"/>
<rect x="66.2" y="495.5" width="6.6" height="101.2" fill="#54fcfc"/>
<rect x="74.5" y="524.5" width="6" height="72" fill="#000" stroke="#ac3030" stroke-width="1"/>
<rect x="82.2" y="527.1" width="6.6" height="69.6" fill="#54fcfc"/>
<rect x="90.2" y="487.9" width="6.6" height="108.8" fill="#54fcfc"/>
<rect x="98.5" y="460.5" width="6" height="136" fill="#000" stroke="#ac3030" stroke-width="1"/>
<rect x="106.5" y="462.5" width="6" height="134" fill="#000" stroke="#ac3030" stroke-width="1"/>
<rect x="115.5" y="498.5" width="6" height="98" fill="#000" stroke="#ac3030" stroke-width="1"/>
<rect x="123.2" y="482.2" width="6.6" height="114.5" fill="#54fcfc"/>
<rect x="131.5" y="515.5" width="6" height="81" fill="#000" stroke="#ac3030" stroke-width="1"/>
<rect x="139.5" y="504.5" width="6" height="92" fill="#000" stroke="#ac3030" stroke-width="1"/>
<rect x="147.2" y="511.3" width="6.6" height="85.4" fill="#54fcfc"/>
<rect x="156.5" y="479.5" width="6" height="117" fill="#000" stroke="#ac3030" stroke-width="1"/>
<rect x="164.5" y="496.5" width="6" height="100" fill="#000" stroke="#ac3030" stroke-width="1"/>
<rect x="172.2" y="497" width="6.6" height="99.7" fill="#54fcfc"/>
<rect x="180.2" y="505" width="6.6" height="91.7" fill="#54fcfc"/>
<rect x="188.5" y="523.5" width="6" height="73" fill="#000" stroke="#ac3030" stroke-width="1"/>
<rect x="196.2" y="496.7" width="6.6" height="100" fill="#54fcfc"/>
<rect x="205.2" y="528" width="6.6" height="68.7" fill="#54fcfc"/>
<rect x="213.2" y="532.2" width="6.6" height="64.5" fill="#54fcfc"/>
<rect x="221.2" y="529" width="6.6" height="67.7" fill="#54fcfc"/>
<rect x="229.5" y="532.5" width="6" height="64" fill="#000" stroke="#ac3030" stroke-width="1"/>
<rect x="237.5" y="517.5" width="6" height="79" fill="#000" stroke="#ac3030" stroke-width="1"/>
<rect x="245.2" y="534.4" width="6.6" height="62.3" fill="#54fcfc"/>
<rect x="254.2" y="526.5" width="6.6" height="70.2" fill="#54fcfc"/>
<rect x="262.2" y="526.5" width="6.6" height="70.2" fill="#54fcfc"/>
<rect x="270.5" y="525.5" width="6" height="71" fill="#000" stroke="#ac3030" stroke-width="1"/>
<rect x="278.2" y="511.9" width="6.6" height="84.8" fill="#54fcfc"/>
<rect x="286.5" y="536.5" width="6" height="60" fill="#000" stroke="#ac3030" stroke-width="1"/>
<rect x="294.5" y="524.5" width="6" height="72" fill="#000" stroke="#ac3030" stroke-width="1"/>
<rect x="303.5" y="527.5" width="6" height="69" fill="#000" stroke="#ac3030" stroke-width="1"/>
<rect x="311.5" y="530.5" width="6" height="66" fill="#000" stroke="#ac3030" stroke-width="1"/>
<rect x="319.2" y="536.6" width="6.6" height="60.1" fill="#54fcfc"/>
<rect x="327.5" y="528.5" width="6" height="68" fill="#000" stroke="#ac3030" stroke-width="1"/>
<rect x="335.2" y="530.3" width="6.6" height="66.4" fill="#54fcfc"/>
<rect x="344.2" y="529.7" width="6.6" height="67" fill="#54fcfc"/>
<rect x="352.5" y="510.5" width="6" height="86" fill="#000" stroke="#ac3030" stroke-width="1"/>
<rect x="360.2" y="518.3" width="6.6" height="78.4" fill="#54fcfc"/>
<rect x="368.5" y="488.5" width="6" height="108" fill="#000" stroke="#ac3030" stroke-width="1"/>
<rect x="376.2" y="522.4" width="6.6" height="74.3" fill="#54fcfc"/>
<rect x="384.5" y="525.5" width="6" height="71" fill="#000" stroke="#ac3030" stroke-width="1"/>
<rect x="393.2" y="527.1" width="6.6" height="69.6" fill="#54fcfc"/>
<rect x="401.5" y="534.5" width="6" height="62" fill="#000" stroke="#ac3030" stroke-width="1"/>
<rect x="409.2" y="535" width="6.6" height="61.7" fill="#54fcfc"/>
<rect x="417.2" y="529.3" width="6.6" height="67.4" fill="#54fcfc"/>
<rect x="425.5" y="524.5" width="6" height="72" fill="#000" stroke="#ac3030" stroke-width="1"/>
<rect x="433.5" y="526.5" width="6" height="70" fill="#000" stroke="#ac3030" stroke-width="1"/>
<rect x="442.5" y="495.5" width="6" height="101" fill="#000" stroke="#ac3030" stroke-width="1"/>
<rect x="450.5" y="507.5" width="6" height="89" fill="#000" stroke="#ac3030" stroke-width="1"/>
<rect x="458.5" y="523.5" width="6" height="73" fill="#000" stroke="#ac3030" stroke-width="1"/>
<rect x="466.2" y="526.5" width="6.6" height="70.2" fill="#54fcfc"/>
<rect x="474.5" y="522.5" width="6" height="74" fill="#000" stroke="#ac3030" stroke-width="1"/>
<rect x="482.5" y="518.5" width="6" height="78" fill="#000" stroke="#ac3030" stroke-width="1"/>
<rect x="491.5" y="499.5" width="6" height="97" fill="#000" stroke="#ac3030" stroke-width="1"/>
<rect x="499.2" y="510.7" width="6.6" height="86" fill="#54fcfc"/>
<rect x="507.2" y="512.9" width="6.6" height="83.8" fill="#54fcfc"/>
<rect x="515.2" y="505" width="6.6" height="91.7" fill="#54fcfc"/>
<rect x="523.5" y="501.5" width="6" height="95" fill="#000" stroke="#ac3030" stroke-width="1"/>
<rect x="532.5" y="508.5" width="6" height="88" fill="#000" stroke="#ac3030" stroke-width="1"/>
<rect x="540.5" y="491.5" width="6" height="105" fill="#000" stroke="#ac3030" stroke-width="1"/>
<rect x="548.5" y="453.5" width="6" height="143" fill="#000" stroke="#ac3030" stroke-width="1"/>
<rect x="556.5" y="494.5" width="6" height="102" fill="#000" stroke="#ac3030" stroke-width="1"/>
<rect x="564.5" y="482.5" width="6" height="114" fill="#000" stroke="#ac3030" stroke-width="1"/>
<rect x="572.2" y="484.1" width="6.6" height="112.6" fill="#54fcfc"/>
<rect x="581.2" y="489.1" width="6.6" height="107.6" fill="#54fcfc"/>
<rect x="589.5" y="504.5" width="6" height="92" fill="#000" stroke="#ac3030" stroke-width="1"/>
<rect x="597.2" y="491.7" width="6.6" height="105" fill="#54fcfc"/>
<rect x="605.2" y="491.7" width="6.6" height="105" fill="#54fcfc"/>
<rect x="613.5" y="517.5" width="6" height="79" fill="#000" stroke="#ac3030" stroke-width="1"/>
<rect x="621.5" y="520.5" width="6" height="76" fill="#000" stroke="#ac3030" stroke-width="1"/>
<rect x="630.5" y="511.5" width="6" height="85" fill="#000" stroke="#ac3030" stroke-width="1"/>
<rect x="638.2" y="517.6" width="6.6" height="79.1" fill="#54fcfc"/>
<rect x="646.5" y="519.5" width="6" height="77" fill="#000" stroke="#ac3030" stroke-width="1"/>
<rect x="654.2" y="517.6" width="6.6" height="79.1" fill="#54fcfc"/>
<rect x="662.2" y="508.1" width="6.6" height="88.6" fill="#54fcfc"/>
<rect x="670.5" y="534.5" width="6" height="62" fill="#000" stroke="#ac3030" stroke-width="1"/>
<rect x="679.2" y="541.4" width="6.6" height="55.3" fill="#54fcfc"/>
<rect x="687.5" y="537.5" width="6" height="59" fill="#000" stroke="#ac3030" stroke-width="1"/>
<rect x="695.5" y="535.5" width="6" height="61" fill="#000" stroke="#ac3030" stroke-width="1"/>
<rect x="703.5" y="533.5" width="6" height="63" fill="#000" stroke="#ac3030" stroke-width="1"/>
<rect x="711.5" y="521.5" width="6" height="75" fill="#000" stroke="#ac3030" stroke-width="1"/>
<rect x="720.5" y="498.5" width="6" height="98" fill="#000" stroke="#ac3030" stroke-width="1"/>
<rect x="728.2" y="524" width="6.6" height="72.7" fill="#54fcfc"/>
<rect x="736.2" y="526.5" width="6.6" height="70.2" fill="#54fcfc"/>
<rect x="744.2" y="538.5" width="6.6" height="58.2" fill="#54fcfc"/>
<rect x="752.2" y="525.9" width="6.6" height="70.8" fill="#54fcfc"/>
<rect x="760.5" y="534.5" width="6" height="62" fill="#000" stroke="#ac3030" stroke-width="1"/>
<rect x="769.5" y="541.5" width="6" height="55" fill="#000" stroke="#ac3030" stroke-width="1"/>
<rect x="777.2" y="537.9" width="6.6" height="58.8" fill="#54fcfc"/>
<rect x="785.2" y="537.3" width="6.6" height="59.4" fill="#54fcfc"/>
<rect x="793.5" y="532.5" width="6" height="64" fill="#000" stroke="#ac3030" stroke-width="1"/>
<rect x="801.5" y="515.5" width="6" height="81" fill="#000" stroke="#ac3030" stroke-width="1"/>
<rect x="809.2" y="518.3" width="6.6" height="78.4" fill="#54fcfc"/>
<rect x="818.2" y="521.7" width="6.6" height="75" fill="#54fcfc"/>
<rect x="826.2" y="521.4" width="6.6" height="75.3" fill="#54fcfc"/>
<rect x="834.5" y="521.5" width="6" height="75" fill="#000" stroke="#ac3030" stroke-width="1"/>
<rect x="842.5" y="518.5" width="6" height="78" fill="#000" stroke="#ac3030" stroke-width="1"/>
<rect x="850.5" y="512.5" width="6" height="84" fill="#000" stroke="#ac3030" stroke-width="1"/>
<rect x="858.2" y="518.9" width="6.6" height="77.8" fill="#54fcfc"/>
<polyline points="0,501.8 15.8,505 34.8,509.7 50.6,501.8 66.5,493.9 76,494.8 85.5,504.3 95,505.6 107.6,495.5 118.7,486 126.6,478 139.3,489.1 151.9,502.4 159.9,498 167.8,501.2 183.6,498 196.3,502.4 208.9,511.3 224.8,520.8 240.6,528.7 250,530.3 259.5,526.5 281.7,525.5 297.5,524 313.3,527.1 322.8,530.3 345,530.3 360.8,522.4 373.5,514.5 386.1,512.9 401.9,517.6 414.6,529.7 424.1,530.9 436.8,530.3 446.3,520.8 458.9,516 477.9,515.1 487.4,519.2 503.2,514.5 512.7,509.7 525.3,506.5 534.8,508.1 542.7,504.3 552.2,492.3 563.3,489.1 572.8,483.4 583.9,481.2 591.8,490.7 607.6,492.9 620.3,501.8 633,508.1 645.6,516 655.1,518.3 664.6,514.5 677.2,520.8 689.9,527.1 705.7,536.6 718.4,531.9 727.8,524 740.5,520.2 753.2,521.4 763.3,528.7 779.1,534.1 795,536.6 807.6,531.9 820.3,524.6 832.9,521.4 848.7,520.2 862.4,519.2" fill="none" stroke="#d0d030" stroke-width="1" stroke-linejoin="round"/>
<polyline points="0,500 15.8,504 34.8,505.6 47.5,502 66.5,500.2 88.6,504.3 104.5,497 117.1,491.7 126.6,492.3 139.3,495.5 151.9,496.1 167.8,489.8 177.3,490.7 189.9,498 205.8,505 221.6,509.7 237.4,514.5 253.2,520.8 265.8,524.6 281.7,526.5 297.5,527.1 313.3,527.8 329.1,528.7 345,527.8 360.8,526.5 373.5,522.3 392.4,522.5 408.3,522.3 427.3,522 436.8,523.5 446.3,520.2 455.8,522.4 471.6,523.3 487.4,519.2 503.2,514.5 515.8,511.9 531.7,511.3 544.3,507.5 553.8,501.8 566.5,497 579.1,493.9 595,490.7 609.2,489.1 620.3,491.7 633,498.6 645.6,503.4 658.3,508.1 670.9,512.9 683.6,519.2 696.2,523.3 708.9,524.6 721.5,524 734.2,524 746.8,526.5 759.5,527.8 779.1,528.7 795,530.3 810.8,529.7 826.6,528.7 842.4,527.1 855.1,524 862.4,520.8" fill="none" stroke="#e0e0e0" stroke-width="1" stroke-linejoin="round"/>
<rect x="820.5" y="424.6" width="62.5" height="12.4" fill="#000" stroke="#4c0e0e" stroke-width="1"/>
<text class="zh" x="839" y="434.32" font-size="8.2" fill="#e0e0e0">成交量</text>
<path d="M875.3 429.6h5.4l-2.7 3.2z" fill="#e8e8e8"/>
<rect x="884" y="587.6" width="36" height="12.4" fill="#5a0ea6"/>
<text x="885.3" y="596.97" font-family="Liberation Sans, sans-serif" font-size="8.3" fill="#e0e0e0">59</text>
<rect x="0" y="597.2" width="883" height="2.8" fill="#2a0404"/>
<rect x="790" y="597.8" width="48.5" height="2.2" fill="#8c0e0e"/>
<line x1="919.3" y1="17.5" x2="919.3" y2="600" stroke="#5e0e1c" stroke-width="1"/>
<line x1="1079.5" y1="17.5" x2="1079.5" y2="600" stroke="#701030" stroke-width="1"/>
<line x1="919" y1="17.5" x2="1080" y2="17.5" stroke="#5e0e1c" stroke-width="1"/>
<line x1="919" y1="42.5" x2="1080" y2="42.5" stroke="#5e0e1c" stroke-width="1"/>
<line x1="919" y1="69.5" x2="1080" y2="69.5" stroke="#5e0e1c" stroke-width="1"/>
<line x1="919" y1="225" x2="1080" y2="225" stroke="#5e0e1c" stroke-width="1"/>
<line x1="919" y1="292.5" x2="1080" y2="292.5" stroke="#5e0e1c" stroke-width="1"/>
<line x1="919" y1="430.5" x2="1080" y2="430.5" stroke="#5e0e1c" stroke-width="1"/>
<line x1="1000.5" y1="292.5" x2="1000.5" y2="430.5" stroke="#5e0e1c" stroke-width="1"/>
<text class="zs" x="943.6 958.9 974.2 989.5" y="14.85" font-size="13.3" font-weight="bold" fill="#1cc4d8">上证指数</text>
<text x="1008.3" y="14.79" font-family="Liberation Serif, sans-serif" font-size="14.5" fill="#19c3d6" font-weight="bold" textLength="43.7" lengthAdjust="spacingAndGlyphs">000001</text>
<text class="zs" x="920.5" y="34.1" font-size="10.8" font-weight="500" fill="#e2e2e2">添富指数</text>
<text x="973.6" y="33.67" font-family="Liberation Sans, sans-serif" font-size="9.4" fill="#f44444" font-weight="bold">+9.04%</text>
<text x="1007.3" y="33.78" font-family="Liberation Sans, sans-serif" font-size="10" fill="#ffffff">[3</text>
<text class="zs" x="1015.2" y="33.95" font-size="10.4" fill="#ffffff">年</text>
<text x="1025.4" y="33.78" font-family="Liberation Sans, sans-serif" font-size="10" fill="#ffffff">]</text>
<rect x="1042" y="20.5" width="34.3" height="19" fill="#c40a0a"/>
<text class="zh" x="1046.4 1054.65 1062.9" y="33.12" font-size="8.2" font-weight="bold" fill="#fff">去投资</text>
<text class="zs" x="920.5" y="61.1" font-size="10.8" font-weight="500" fill="#e2e2e2">委比</text>
<text x="998.2" y="60.77" font-family="Liberation Sans, sans-serif" font-size="9.7" fill="#34ee34" font-weight="bold" text-anchor="end" textLength="36.13" lengthAdjust="spacingAndGlyphs">-14.79%</text>
<text x="1077.6" y="60.77" font-family="Liberation Sans, sans-serif" font-size="9.7" fill="#34ee34" font-weight="bold" text-anchor="end" textLength="40.99" lengthAdjust="spacingAndGlyphs">-3283717</text>
<text class="zs" x="920.5" y="86.6" font-size="10.8" font-weight="500" fill="#e2e2e2">最新</text>
<text x="998.2" y="86.27" font-family="Liberation Sans, sans-serif" font-size="9.7" fill="#34ee34" font-weight="bold" text-anchor="end" textLength="35.06" lengthAdjust="spacingAndGlyphs">2978.60</text>
<text class="zs" x="1000.6" y="86.6" font-size="10.8" font-weight="500" fill="#e2e2e2">昨收</text>
<text x="1077.6" y="86.27" font-family="Liberation Sans, sans-serif" font-size="9.7" fill="#ffffff" font-weight="bold" text-anchor="end" textLength="35.06" lengthAdjust="spacingAndGlyphs">2991.56</text>
<text class="zs" x="920.5" y="112.9" font-size="10.8" font-weight="500" fill="#e2e2e2">涨跌</text>
<text x="998.2" y="112.57" font-family="Liberation Sans, sans-serif" font-size="9.7" fill="#34ee34" font-weight="bold" text-anchor="end" textLength="27.5" lengthAdjust="spacingAndGlyphs">-12.96</text>
<text class="zs" x="1000.6" y="112.9" font-size="10.8" font-weight="500" fill="#e2e2e2">开盘</text>
<text x="1077.6" y="112.57" font-family="Liberation Sans, sans-serif" font-size="9.7" fill="#f44444" font-weight="bold" text-anchor="end" textLength="35.06" lengthAdjust="spacingAndGlyphs">2992.04</text>
<text class="zs" x="920.5" y="139.1" font-size="10.8" font-weight="500" fill="#e2e2e2">涨幅</text>
<text x="998.2" y="138.77" font-family="Liberation Sans, sans-serif" font-size="9.7" fill="#34ee34" font-weight="bold" text-anchor="end" textLength="30.73" lengthAdjust="spacingAndGlyphs">-0.43%</text>
<text class="zs" x="1000.6" y="139.1" font-size="10.8" font-weight="500" fill="#e2e2e2">最高</text>
<text x="1077.6" y="138.77" font-family="Liberation Sans, sans-serif" font-size="9.7" fill="#f44444" font-weight="bold" text-anchor="end" textLength="35.06" lengthAdjust="spacingAndGlyphs">2995.56</text>
<text class="zs" x="920.5" y="164.1" font-size="10.8" font-weight="500" fill="#e2e2e2">振幅</text>
<text x="998.2" y="163.77" font-family="Liberation Sans, sans-serif" font-size="9.7" fill="#36c6ea" font-weight="bold" text-anchor="end" textLength="27.5" lengthAdjust="spacingAndGlyphs">0.86%</text>
<text class="zs" x="1000.6" y="164.1" font-size="10.8" font-weight="500" fill="#e2e2e2">最低</text>
<text x="1077.6" y="163.77" font-family="Liberation Sans, sans-serif" font-size="9.7" fill="#34ee34" font-weight="bold" text-anchor="end" textLength="35.06" lengthAdjust="spacingAndGlyphs">2969.72</text>
<text class="zs" x="920.5" y="190.3" font-size="10.8" font-weight="500" fill="#e2e2e2">现手</text>
<text x="998.2" y="189.97" font-family="Liberation Sans, sans-serif" font-size="9.7" fill="#36c6ea" font-weight="bold" text-anchor="end" textLength="32.37" lengthAdjust="spacingAndGlyphs">235500</text>
<text class="zs" x="1000.6" y="190.3" font-size="10.8" font-weight="500" fill="#e2e2e2">量比</text>
<text x="1077.6" y="189.97" font-family="Liberation Sans, sans-serif" font-size="9.7" fill="#34ee34" font-weight="bold" text-anchor="end" textLength="18.88" lengthAdjust="spacingAndGlyphs">1.00</text>
<text class="zs" x="920.5" y="216.1" font-size="10.8" font-weight="500" fill="#e2e2e2">总手</text>
<text class="zs" x="987.77" y="216.3" font-size="10.8" font-weight="500" fill="#ffffff">万</text>
<text x="988.27" y="215.77" font-family="Liberation Sans, sans-serif" font-size="9.7" fill="#ffffff" font-weight="bold" text-anchor="end" textLength="26.97" lengthAdjust="spacingAndGlyphs">16526</text>
<text class="zs" x="1000.6" y="216.1" font-size="10.8" font-weight="500" fill="#e2e2e2">金额</text>
<text class="zs" x="1067.17" y="216.3" font-size="10.8" font-weight="500" fill="#36c6ea">亿</text>
<text x="1067.67" y="215.77" font-family="Liberation Sans, sans-serif" font-size="9.7" fill="#36c6ea" font-weight="bold" text-anchor="end" textLength="21.58" lengthAdjust="spacingAndGlyphs">1840</text>
<text class="zs" x="920.5" y="246.6" font-size="10.8" font-weight="500" fill="#e2e2e2">总市值</text>
<text class="zs" x="1067.17" y="246.8" font-size="10.8" font-weight="500" fill="#36c6ea">亿</text>
<text x="1067.67" y="246.27" font-family="Liberation Sans, sans-serif" font-size="9.7" fill="#36c6ea" font-weight="bold" text-anchor="end" textLength="32.37" lengthAdjust="spacingAndGlyphs">339056</text>
<text class="zs" x="920.5" y="280.3" font-size="10.8" font-weight="500" fill="#e2e2e2">流通市值</text>
<text class="zs" x="1067.17" y="280.5" font-size="10.8" font-weight="500" fill="#36c6ea">亿</text>
<text x="1067.67" y="279.97" font-family="Liberation Sans, sans-serif" font-size="9.7" fill="#36c6ea" font-weight="bold" text-anchor="end" textLength="32.37" lengthAdjust="spacingAndGlyphs">291304</text>
<text class="zs" x="920.5" y="308.6" font-size="10.8" font-weight="500" fill="#e2e2e2">委卖量</text>
<text class="zs" x="988.37" y="308.8" font-size="10.8" font-weight="500" fill="#36c6ea">万</text>
<text x="988.87" y="308.27" font-family="Liberation Sans, sans-serif" font-size="9.7" fill="#36c6ea" font-weight="bold" text-anchor="end" textLength="21.58" lengthAdjust="spacingAndGlyphs">1274</text>
<text class="zs" x="1001.4" y="308.6" font-size="10.8" font-weight="500" fill="#e2e2e2">上涨家数</text>
<text x="1078.2" y="308.27" font-family="Liberation Sans, sans-serif" font-size="9.7" fill="#f44444" font-weight="bold" text-anchor="end" textLength="16.18" lengthAdjust="spacingAndGlyphs">369</text>
<text class="zs" x="920.5" y="331.1" font-size="10.8" font-weight="500" fill="#e2e2e2">委买量</text>
<text class="zs" x="988.37" y="331.3" font-size="10.8" font-weight="500" fill="#f44444">万</text>
<text x="988.87" y="330.77" font-family="Liberation Sans, sans-serif" font-size="9.7" fill="#f44444" font-weight="bold" text-anchor="end" textLength="24.27" lengthAdjust="spacingAndGlyphs">946.1</text>
<text class="zs" x="1001.4" y="331.1" font-size="10.8" font-weight="500" fill="#e2e2e2">平盘家数</text>
<text x="1078.2" y="330.77" font-family="Liberation Sans, sans-serif" font-size="9.7" fill="#ffffff" font-weight="bold" text-anchor="end" textLength="10.79" lengthAdjust="spacingAndGlyphs">57</text>
<text class="zs" x="920.5" y="354.1" font-size="10.8" font-weight="500" fill="#e2e2e2">卖金额</text>
<text class="zs" x="988.37" y="354.3" font-size="10.8" font-weight="500" fill="#36c6ea">亿</text>
<text x="988.87" y="353.77" font-family="Liberation Sans, sans-serif" font-size="9.7" fill="#36c6ea" font-weight="bold" text-anchor="end" textLength="24.27" lengthAdjust="spacingAndGlyphs">52.69</text>
<text class="zs" x="1001.4" y="354.1" font-size="10.8" font-weight="500" fill="#e2e2e2">下跌家数</text>
<text x="1078.2" y="353.77" font-family="Liberation Sans, sans-serif" font-size="9.7" fill="#34ee34" font-weight="bold" text-anchor="end" textLength="21.58" lengthAdjust="spacingAndGlyphs">1158</text>
<text class="zs" x="920.5" y="377.1" font-size="10.8" font-weight="500" fill="#e2e2e2">买金额</text>
<text class="zs" x="988.37" y="377.3" font-size="10.8" font-weight="500" fill="#36c6ea">亿</text>
<text x="988.87" y="376.77" font-family="Liberation Sans, sans-serif" font-size="9.7" fill="#36c6ea" font-weight="bold" text-anchor="end" textLength="24.27" lengthAdjust="spacingAndGlyphs">46.64</text>
<text class="zs" x="1001.4" y="377.1" font-size="10.8" font-weight="500" fill="#e2e2e2">市盈</text>
<text x="1078.2" y="376.77" font-family="Liberation Sans, sans-serif" font-size="9.7" fill="#dedede" font-weight="bold" text-anchor="end" textLength="24.27" lengthAdjust="spacingAndGlyphs">14.98</text>
<text class="zs" x="920.5" y="399.6" font-size="10.8" font-weight="500" fill="#e2e2e2">换手</text>
<text x="998.8" y="399.27" font-family="Liberation Sans, sans-serif" font-size="9.7" fill="#36c6ea" font-weight="bold" text-anchor="end" textLength="27.5" lengthAdjust="spacingAndGlyphs">0.48%</text>
<text class="zs" x="1001.4" y="399.6" font-size="10.8" font-weight="500" fill="#e2e2e2">市盈</text>
<text x="1022.4" y="399.1" font-family="Liberation Sans, sans-serif" font-size="9.5" fill="#e2e2e2">(</text>
<text class="zs" x="1025.1" y="399.6" font-size="10.8" font-weight="500" fill="#e2e2e2">动</text>
<text x="1035.3" y="399.1" font-family="Liberation Sans, sans-serif" font-size="9.5" fill="#e2e2e2">)</text>
<text x="1078.2" y="399.27" font-family="Liberation Sans, sans-serif" font-size="9.7" fill="#dedede" font-weight="bold" text-anchor="end" textLength="24.27" lengthAdjust="spacingAndGlyphs">12.57</text>
<text class="zs" x="920.5" y="422.1" font-size="10.8" font-weight="500" fill="#e2e2e2">均价</text>
<text x="998.8" y="421.77" font-family="Liberation Sans, sans-serif" font-size="9.7" fill="#34ee34" font-weight="bold" text-anchor="end" textLength="24.27" lengthAdjust="spacingAndGlyphs">15.17</text>
<text class="zs" x="1001.4" y="422.1" font-size="10.8" font-weight="500" fill="#e2e2e2">市净率</text>
<text x="1078.2" y="421.77" font-family="Liberation Sans, sans-serif" font-size="9.7" fill="#dedede" font-weight="bold" text-anchor="end" textLength="18.88" lengthAdjust="spacingAndGlyphs">1.39</text>
<text class="zs" x="921" y="447.03" font-size="10.6" font-weight="500" fill="#e2e2e2">现价</text>
<text x="968" y="446.31" font-family="Liberation Sans, sans-serif" font-size="8.7" fill="#34ee34">2978.60</text>
<text x="1021.5" y="446.46" font-family="Liberation Sans, sans-serif" font-size="9.1" fill="#d8d8d8">2019-11-06,</text>
<text class="zs" x="1068.3" y="446.65" font-size="9.6" fill="#d8d8d8">三</text>
<line x1="949.6" y1="459.9" x2="949.6" y2="600" stroke="#9a1414" stroke-width="1"/>
<line x1="962.08" y1="459.9" x2="962.08" y2="600" stroke="#9a0c0c" stroke-width="1" stroke-dasharray="1 2" stroke-opacity="0.7"/>
<line x1="974.55" y1="459.9" x2="974.55" y2="600" stroke="#9a1414" stroke-width="1"/>
<line x1="987.02" y1="459.9" x2="987.02" y2="600" stroke="#9a0c0c" stroke-width="1" stroke-dasharray="1 2" stroke-opacity="0.7"/>
<line x1="999.5" y1="459.9" x2="999.5" y2="600" stroke="#9a1414" stroke-width="1"/>
<line x1="1011.98" y1="459.9" x2="1011.98" y2="600" stroke="#9a0c0c" stroke-width="1" stroke-dasharray="1 2" stroke-opacity="0.7"/>
<line x1="1024.45" y1="459.9" x2="1024.45" y2="600" stroke="#9a1414" stroke-width="1"/>
<line x1="1036.92" y1="459.9" x2="1036.92" y2="600" stroke="#9a0c0c" stroke-width="1" stroke-dasharray="1 2" stroke-opacity="0.7"/>
<line x1="1049.4" y1="459.9" x2="1049.4" y2="600" stroke="#9a1414" stroke-width="1"/>
<line x1="949.6" y1="459.9" x2="1049.4" y2="459.9" stroke="#9a1414" stroke-width="1"/>
<line x1="949.6" y1="476.1" x2="1049.4" y2="476.1" stroke="#9a1414" stroke-width="1"/>
<line x1="949.6" y1="492.3" x2="1049.4" y2="492.3" stroke="#9a1414" stroke-width="1"/>
<line x1="949.6" y1="508.5" x2="1049.4" y2="508.5" stroke="#9a1414" stroke-width="1"/>
<line x1="949.6" y1="524.7" x2="1049.4" y2="524.7" stroke="#9a1414" stroke-width="1"/>
<line x1="949.6" y1="540.9" x2="1049.4" y2="540.9" stroke="#9a1414" stroke-width="1"/>
<line x1="949.6" y1="557.1" x2="1049.4" y2="557.1" stroke="#9a1414" stroke-width="1"/>
<line x1="949.6" y1="573.3" x2="1049.4" y2="573.3" stroke="#9a1414" stroke-width="1"/>
<line x1="949.6" y1="589.5" x2="1049.4" y2="589.5" stroke="#9a1414" stroke-width="1"/>
<text x="948.3" y="463.28" font-family="Liberation Sans, sans-serif" font-size="8.6" fill="#f44444" text-anchor="end">3051</text>
<text x="1050.6" y="463.14" font-family="Liberation Sans, sans-serif" font-size="8.2" fill="#f44444">2.00%</text>
<text x="948.3" y="479.48" font-family="Liberation Sans, sans-serif" font-size="8.6" fill="#f44444" text-anchor="end">3042</text>
<text x="1050.6" y="479.34" font-family="Liberation Sans, sans-serif" font-size="8.2" fill="#f44444">1.68%</text>
<text x="948.3" y="495.68" font-family="Liberation Sans, sans-serif" font-size="8.6" fill="#f44444" text-anchor="end">3032</text>
<text x="1050.6" y="495.54" font-family="Liberation Sans, sans-serif" font-size="8.2" fill="#f44444">1.34%</text>
<text x="948.3" y="511.88" font-family="Liberation Sans, sans-serif" font-size="8.6" fill="#f44444" text-anchor="end">3022</text>
<text x="1050.6" y="511.74" font-family="Liberation Sans, sans-serif" font-size="8.2" fill="#f44444">1.01%</text>
<text x="948.3" y="528.08" font-family="Liberation Sans, sans-serif" font-size="8.6" fill="#f44444" text-anchor="end">3012</text>
<text x="1050.6" y="527.94" font-family="Liberation Sans, sans-serif" font-size="8.2" fill="#f44444">0.68%</text>
<text x="948.3" y="544.28" font-family="Liberation Sans, sans-serif" font-size="8.6" fill="#f44444" text-anchor="end">3002</text>
<text x="1050.6" y="544.14" font-family="Liberation Sans, sans-serif" font-size="8.2" fill="#f44444">0.34%</text>
<text x="948.3" y="560.48" font-family="Liberation Sans, sans-serif" font-size="8.6" fill="#e8e8e8" text-anchor="end">2992</text>
<text x="1050.6" y="560.34" font-family="Liberation Sans, sans-serif" font-size="8.2" fill="#e8e8e8">0.00%</text>
<text x="948.3" y="576.68" font-family="Liberation Sans, sans-serif" font-size="8.6" fill="#34ee34" text-anchor="end">2982</text>
<text x="1050.6" y="576.54" font-family="Liberation Sans, sans-serif" font-size="8.2" fill="#34ee34">0.31%</text>
<text x="948.3" y="592.88" font-family="Liberation Sans, sans-serif" font-size="8.6" fill="#34ee34" text-anchor="end">2972</text>
<text x="1050.6" y="592.74" font-family="Liberation Sans, sans-serif" font-size="8.2" fill="#34ee34">0.65%</text>
<polyline points="949.9,559.2 951.7,565 954,562.7 955.7,565 957.5,555.7 959.8,557.4 962.2,556.8 964.5,559.2 966.8,564.4 969.2,560.9 971.5,555.7 973.8,560.3 976.2,561.5 978.5,565 980.8,567.3 983.7,570.2 986.6,574.3 988.4,577.2 991.3,573.1 993.6,570.8 997.1,573.7 1000.6,576.6 1003.6,577.8 1006.5,580.1 1008.8,583.6 1012.3,587.1 1015.8,584.2 1019.3,580.7 1022.8,584.8 1025.7,591.8 1028.6,589.5 1032.1,596.5 1033.3,600" fill="none" stroke="#e6e6a0" stroke-width="1" stroke-linejoin="round"/>
<polyline points="949.9,558 951.7,559.2 953.4,563.8 955.7,562.7 957.5,555.1 959.2,556.8 961,558.6 962.7,556.6 964.5,558 966.2,560.3 968,561.5 969.7,557.4 971.3,552.2 972.7,557.4 974.4,555 976.2,559.2 978.5,561.5 980.2,559.7 982.6,563.8 984.3,563.2 986.6,567.3 989,568.5 991.3,563.2 993.6,562.7 996,564.4 998.3,567.3 1001.8,570.2 1005.3,567.9 1008.8,571.4 1012.3,574.9 1015.8,573.1 1019.3,569.7 1022.8,570.8 1025.7,577.8 1029.2,573.7 1032.1,579 1034.5,582.5 1036.8,587.1 1039.1,586 1042.6,591.8 1045,586 1047.3,582.5 1049,579" fill="none" stroke="#f4f4f4" stroke-width="1" stroke-linejoin="round"/>
<polyline points="1047,600 1048,597.5 1049,596" fill="none" stroke="#e6e6a0" stroke-width="1" stroke-linejoin="round"/>
</g>
</svg>
</body></html>
